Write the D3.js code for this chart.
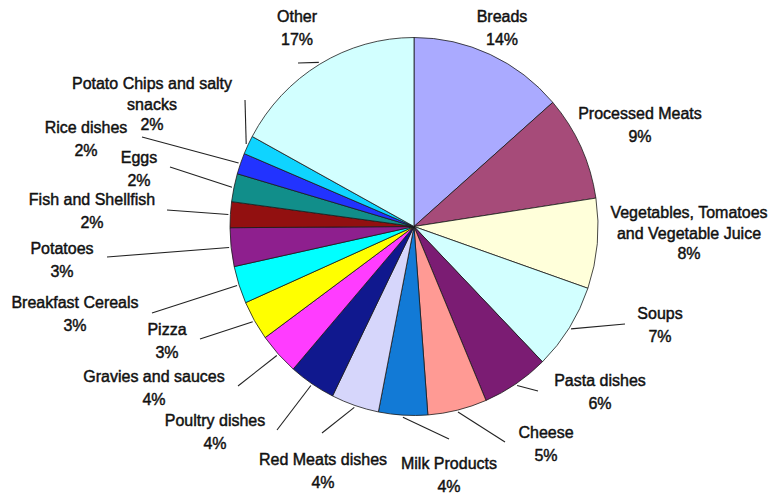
<!DOCTYPE html>
<html>
<head>
<meta charset="utf-8">
<script src="https://cdn.jsdelivr.net/npm/d3@7/dist/d3.min.js"></script>
<style>
  html, body { margin: 0; padding: 0; background: #ffffff; }
  svg { display: block; }
  text { font-family: "Liberation Sans", Arial, sans-serif; font-size: 16px; fill: #111; }
</style>
</head>
<body>
<svg id="chart" width="770" height="494"></svg>
<script>
// Share of sodium intake by food category (percent), clockwise from 12 o'clock
const categories = [
  "Breads", "Processed Meats", "Vegetables, Tomatoes and Vegetable Juice", "Soups",
  "Pasta dishes", "Cheese", "Milk Products", "Red Meats dishes", "Poultry dishes",
  "Gravies and sauces", "Pizza", "Breakfast Cereals", "Potatoes", "Fish and Shellfish",
  "Eggs", "Rice dishes", "Potato Chips and salty snacks", "Other"
];
const shares = [13.6, 9.0, 7.7, 7.4, 5.9, 5.2, 4.3, 4.2, 4.1, 3.6, 3.4, 3.2, 3.3, 2.2, 2.4, 1.8, 1.6, 17.1];
const sliceColors = [
  "#aaaaff", "#a64b79", "#ffffda", "#d2ffff", "#7b1c73", "#ff9a94", "#127ad6", "#d6d6fb", "#10188e",
  "#ff3cff", "#ffff00", "#00ffff", "#8e1f8e", "#921010", "#118e8a", "#2233ff", "#0fd4ff", "#d2ffff"
];

// Label layout: text lines, centre x, first-line centre y, and leader-line end (or null)
const labelLayout = [
  { lines: ["Breads"], x: 502, y: 16, end: null },
  { lines: ["Processed Meats"], x: 640, y: 113, end: null },
  { lines: ["Vegetables, Tomatoes", "and Vegetable Juice"], x: 689, y: 212, end: null },
  { lines: ["Soups"], x: 660, y: 313, end: [625, 324] },
  { lines: ["Pasta dishes"], x: 600, y: 380, end: [538, 391] },
  { lines: ["Cheese"], x: 546, y: 432, end: [505, 442] },
  { lines: ["Milk Products"], x: 449, y: 463, end: [449, 439] },
  { lines: ["Red Meats dishes"], x: 323, y: 459, end: [322, 433] },
  { lines: ["Poultry dishes"], x: 215, y: 420, end: [277, 430] },
  { lines: ["Gravies and sauces"], x: 154, y: 376, end: [238, 386] },
  { lines: ["Pizza"], x: 167, y: 329, end: [200, 339] },
  { lines: ["Breakfast Cereals"], x: 75, y: 302, end: [152, 313] },
  { lines: ["Potatoes"], x: 62, y: 248, end: [107, 257] },
  { lines: ["Fish and Shellfish"], x: 92, y: 199, end: [167, 210] },
  { lines: ["Eggs"], x: 139, y: 157, end: [170, 167] },
  { lines: ["Rice dishes"], x: 86, y: 127, end: [142, 137] },
  { lines: ["Potato Chips and salty", "snacks"], x: 152, y: 83, end: [245, 100] },
  { lines: ["Other"], x: 297, y: 16, end: [298, 63] }
];

const svg = d3.select("#chart");
// The pie is drawn slightly narrower than tall
const cx = 414, cy = 226.5, ry = 189, rx = 184;

const data = categories.map((name, i) => ({ name, value: shares[i], color: sliceColors[i], layout: labelLayout[i] }));
const total = d3.sum(shares);
const fmtPct = d3.format(".0%");

const pie = d3.pie().sort(null).value(d => d.value).startAngle(0).endAngle(2 * Math.PI);
const arcs = pie(data);
const arc = d3.arc().innerRadius(0).outerRadius(ry);

const g = svg.append("g").attr("transform", `translate(${cx},${cy}) scale(${rx / ry},1)`);

g.selectAll("path.slice")
  .data(arcs)
  .join("path")
  .attr("class", "slice")
  .attr("d", arc)
  .attr("fill", d => d.data.color)
  .attr("stroke", "#1a1a1a")
  .attr("stroke-width", 0.8)
  .attr("vector-effect", "non-scaling-stroke")
  .attr("stroke-linejoin", "round");

// Leader lines from slice edge (at mid-angle) to the label
const edgePoint = (d, pad) => {
  const a = (d.startAngle + d.endAngle) / 2;
  return [cx + (rx + pad) * Math.sin(a), cy - (ry + pad) * Math.cos(a)];
};

svg.append("g")
  .selectAll("line")
  .data(arcs.filter(d => d.data.layout.end))
  .join("line")
  .attr("x1", d => edgePoint(d, 2)[0])
  .attr("y1", d => edgePoint(d, 2)[1])
  .attr("x2", d => d.data.layout.end[0])
  .attr("y2", d => d.data.layout.end[1])
  .attr("stroke", "#222")
  .attr("stroke-width", 1.1);

// Category labels with percentage
const labels = svg.append("g")
  .selectAll("text")
  .data(arcs)
  .join("text")
  .attr("text-anchor", "middle")
  .attr("stroke", "#111")
  .attr("stroke-width", 0.45);

labels.each(function (d) {
  const t = d3.select(this);
  const L = d.data.layout;
  const multi = L.lines.length > 1;
  const step = multi ? 20.5 : 22.5;
  L.lines.forEach((line, i) => {
    t.append("tspan").attr("x", L.x).attr("y", L.y + 6 + i * step).text(line);
  });
  t.append("tspan")
    .attr("x", L.x)
    .attr("y", L.y + 6 + L.lines.length * step)
    .text(fmtPct(d.data.value / total));
});
</script>
</body>
</html>
